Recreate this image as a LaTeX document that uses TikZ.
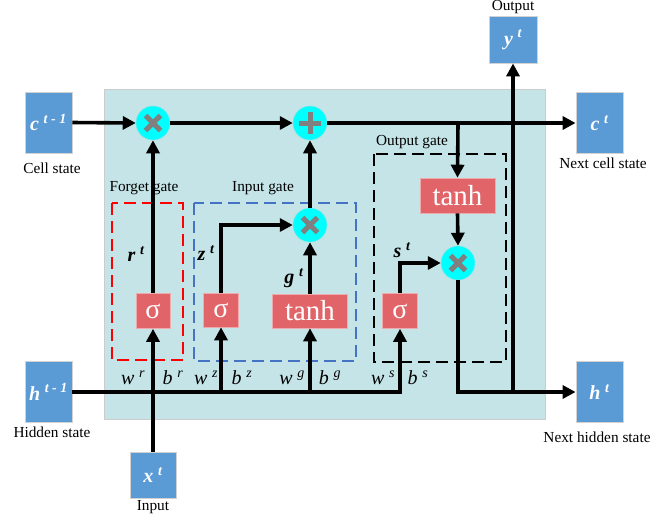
\documentclass[tikz,border=0pt]{standalone}
\usepackage{fontspec}
\setmainfont{Liberation Serif}
\usetikzlibrary{arrows.meta}
\definecolor{bgteal}{RGB}{196,228,231}
\definecolor{boxblue}{RGB}{91,155,213}
\definecolor{actred}{RGB}{224,100,104}
\definecolor{gateblue}{RGB}{68,114,196}
\definecolor{symgray}{RGB}{128,128,128}
\definecolor{opcyan}{RGB}{0,255,255}
\newcommand{\mulsym}[1]{%
  \draw[symline] ([shift={(-7.5,-7.5)}]#1.center) -- ([shift={(7.5,7.5)}]#1.center);
  \draw[symline] ([shift={(-7.5,7.5)}]#1.center) -- ([shift={(7.5,-7.5)}]#1.center);}
\newcommand{\addsym}[1]{%
  \draw[symline] ([shift={(-11,0)}]#1.center) -- ([shift={(11,0)}]#1.center);
  \draw[symline] ([shift={(0,-11)}]#1.center) -- ([shift={(0,11)}]#1.center);}
\begin{document}
\begin{tikzpicture}[x=1pt,y=-1pt,
  iobox/.style={fill=boxblue, draw=gray!35, line width=0.8pt, minimum width=47pt, minimum height=61pt,
     text=white, font=\fontsize{20}{22}\selectfont\bfseries\itshape, inner sep=0pt},
  actbox/.style={fill=actred, draw=actred!55!white, line width=0.6pt, text=white, inner sep=0pt},
  opcirc/.style={circle, fill=opcyan, draw=opcyan!70!gray!60, line width=0.5pt, minimum size=34pt, inner sep=0pt},
  symline/.style={draw=symgray, line width=5pt},
  arr/.style={line width=3.6pt, -{Triangle[length=13pt,width=13pt]}},
  captxt/.style={font=\fontsize{15.3}{17}\selectfont},
  vlbl/.style={font=\fontsize{20}{22}\selectfont\bfseries\itshape},
  wlbl/.style={font=\fontsize{20}{22}\selectfont\itshape},
  gatebox/.style={line width=2pt, dash pattern=on 12pt off 6pt}
]
\useasboundingbox (0,0) rectangle (650,523);
% background cell
\draw[fill=bgteal, draw=gray!40, line width=0.8pt] (104,89) rectangle (545,419);

% gate frames
\draw[gatebox, red] (112,203) rectangle (183,360);
\draw[gatebox, gateblue] (194,203) rectangle (356,361);
\draw[gatebox, black] (374,154) rectangle (506,362);
\node[captxt] (lforget) at (144,188) {Forget gate};
\node[captxt] (linput) at (263,188) {Input gate};
\node[captxt] (loutput) at (412,142) {Output gate};

% io boxes
\node[iobox] (cprev) at (48.5,122.5) {c\textsuperscript{\,\,t - 1}};
\node[iobox] (hprev) at (48.5,392) {h\textsuperscript{\,\,t - 1}};
\node[iobox, minimum width=46pt, minimum height=46pt] (xin) at (153,475) {x\textsuperscript{\,\,t}};
\node[iobox, minimum width=48pt, minimum height=47pt] (yout) at (513,39.5) {y\textsuperscript{\,\,t}};
\node[iobox] (cnext) at (599.5,123) {c\textsuperscript{\,\,t}};
\node[iobox] (hnext) at (599.5,392) {h\textsuperscript{\,\,t}};
\node[captxt] (lcell) at (52,168) {Cell state};
\node[captxt] (lhidden) at (52,432) {Hidden state};
\node[captxt] (linp) at (153,507) {Input};
\node[captxt] (lout) at (513,7) {Output};
\node[captxt] (lnextc) at (603,163) {Next cell state};
\node[captxt] (lnexth) at (597,437) {Next hidden state};

% operators
\node[opcirc] (mulF) at (153,123) {};
\node[opcirc] (add) at (310,123) {};
\node[opcirc] (mulI) at (310,225) {};
\node[opcirc] (mulO) at (458,263) {};

% activation boxes
\node[actbox, minimum width=34pt, minimum height=35pt, font=\fontsize{28}{30}\selectfont] (sigF) at (153,311) {σ};
\node[actbox, minimum width=35pt, minimum height=34pt, font=\fontsize{28}{30}\selectfont] (sigI) at (221,310) {σ};
\node[actbox, minimum width=75pt, minimum height=34pt, font=\fontsize{29}{30}\selectfont] (tanhI) at (310,311) {tanh};
\node[actbox, minimum width=35pt, minimum height=35pt, font=\fontsize{28}{30}\selectfont] (sigO) at (400,311) {σ};
\node[actbox, minimum width=75pt, minimum height=35pt, font=\fontsize{29}{30}\selectfont] (tanhO) at (457.5,195.5) {tanh};

% junctions
\coordinate (jI) at (221,392);
\coordinate (jG) at (310,392);
\coordinate (jO) at (400,392);
\coordinate (jY) at (513,392);
\coordinate (jC) at (458,123);

% connectors
\draw[arr] (cprev.east) -- (mulF.west);
\draw[arr] (mulF.east) -- (add.west);
\draw[arr] (add.east) -- (cnext.west);
\draw[arr] (jC) -- (tanhO.north);
\draw[arr] (tanhO.south) -- (mulO.north);
\draw[arr] (hprev.east) -- (jO) -- (sigO.south);
\draw[arr] (jI) -- (sigI.south);
\draw[arr] (jG) -- (tanhI.south);
\draw[arr] (xin.north) -- (sigF.south);
\draw[arr] (sigF.north) -- (mulF.south);
\draw[arr] (sigI.north) |- (mulI.west);
\draw[arr] (tanhI.north) -- (mulI.south);
\draw[arr] (mulI.north) -- (add.south);
\draw[arr] (sigO.north) |- (mulO.west);
\draw[arr] (mulO.south) |- (hnext.west);
\draw[arr] (jY) -- (yout.south);

% operator symbols
\mulsym{mulF}
\mulsym{mulI}
\mulsym{mulO}
\addsym{add}

% variable labels
\node[vlbl] (rt) at (136,254) {r\textsuperscript{\,\,t}};
\node[vlbl] (zt) at (206,253) {z\textsuperscript{\,\,t}};
\node[vlbl] (gt) at (294,278) {g\textsuperscript{\,\,t}};
\node[vlbl] (st) at (402,250) {s\textsuperscript{\,\,t}};

\node[wlbl] (wr) at (133,378) {w\textsuperscript{\,\,r}};
\node[wlbl] (br) at (173,378) {b\textsuperscript{\,\,r}};
\node[wlbl] (wz) at (206,378) {w\textsuperscript{\,\,z}};
\node[wlbl] (bz) at (242,378) {b\textsuperscript{\,\,z}};
\node[wlbl] (wg) at (292,378) {w\textsuperscript{\,\,g}};
\node[wlbl] (bg) at (330,378) {b\textsuperscript{\,\,g}};
\node[wlbl] (ws) at (383,378) {w\textsuperscript{\,\,s}};
\node[wlbl] (bs) at (418,378) {b\textsuperscript{\,\,s}};
\end{tikzpicture}
\end{document}
